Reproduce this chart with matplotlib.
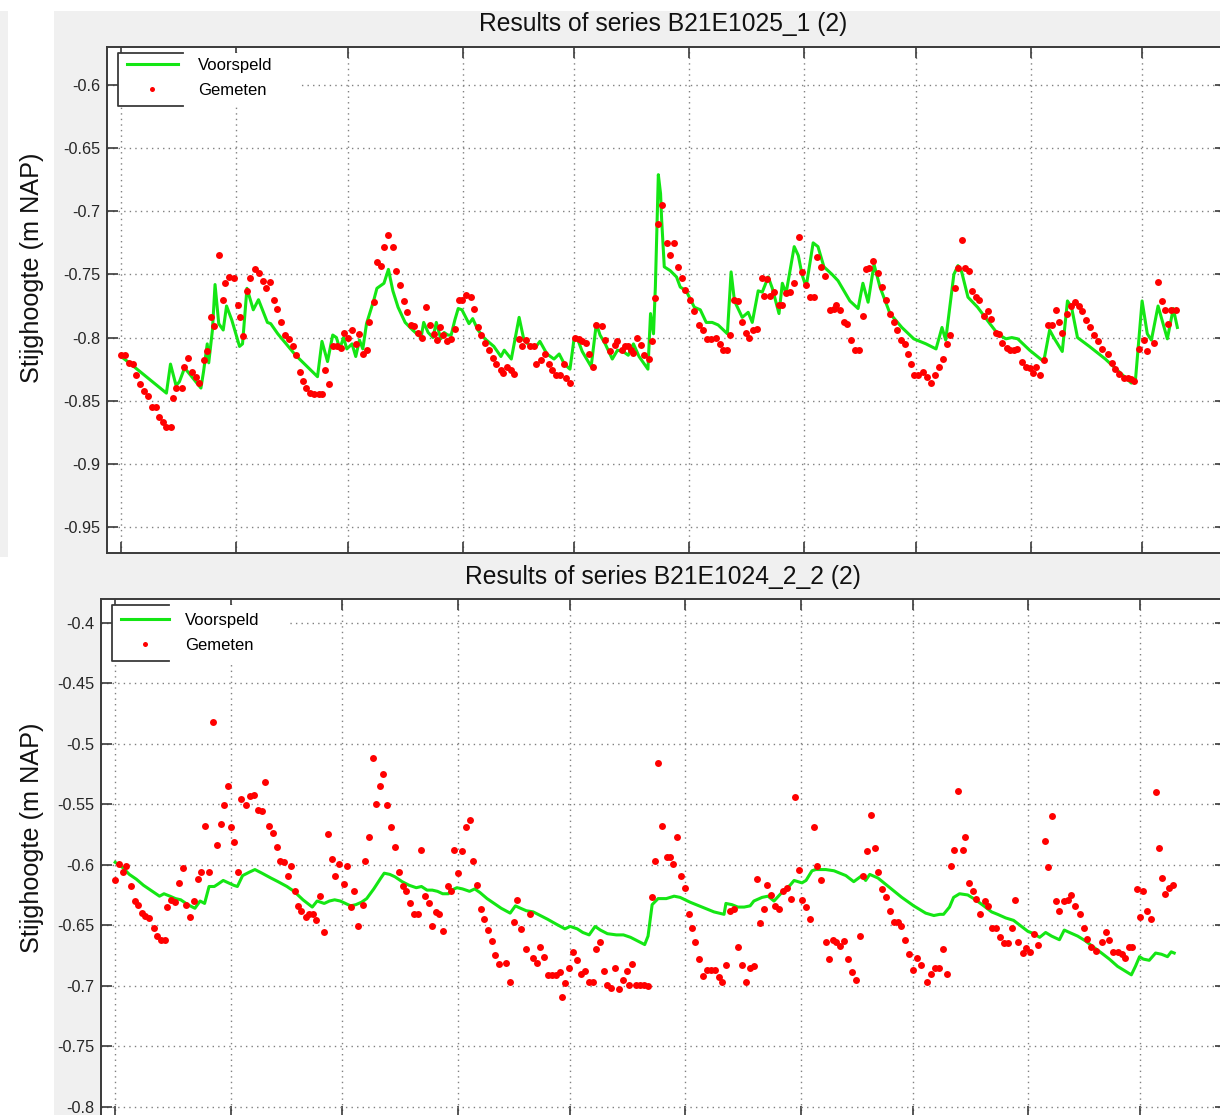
import matplotlib.pyplot as plt
from matplotlib.lines import Line2D
from matplotlib.patches import Rectangle

plt.rcParams['font.family'] = ['Liberation Sans', 'DejaVu Sans']

W, H = 1220, 1115

titles = ['Results of series B21E1025_1 (2)', 'Results of series B21E1024_2_2 (2)']
ylabel = 'Stijghoogte (m NAP)'
legend_labels = ['Voorspeld', 'Gemeten']

# month starts, in days since 1 March (no labels visible in the screenshot)
month_ticks = [0, 31, 61, 92, 122, 153, 184, 214, 245, 275]

top_yticks = [-0.6, -0.65, -0.7, -0.75, -0.8, -0.85, -0.9, -0.95]
top_yticklabels = ['-0.6', '-0.65', '-0.7', '-0.75', '-0.8', '-0.85', '-0.9', '-0.95']
bot_yticks = [-0.4, -0.45, -0.5, -0.55, -0.6, -0.65, -0.7, -0.75, -0.8]
bot_yticklabels = ['-0.4', '-0.45', '-0.5', '-0.55', '-0.6', '-0.65', '-0.7', '-0.75', '-0.8']

# series B21E1025_1 : (day, m NAP)
top_voorspeld = [
    (0, -0.815), (2.2, -0.820), (12.2, -0.844), (13.3, -0.821), (14.8, -0.838), (15.7, -0.835),
    (17.1, -0.824), (21.5, -0.840), (22.2, -0.827), (23.2, -0.805), (23.6, -0.820), (24.6, -0.794),
    (25.3, -0.758), (26.3, -0.789), (27.5, -0.794), (28.4, -0.775), (29.8, -0.786), (31.9, -0.807),
    (32.7, -0.805), (33.9, -0.761), (35.6, -0.778), (37.0, -0.770), (39.4, -0.788), (40.3, -0.789),
    (42.2, -0.797), (47.0, -0.814), (52.9, -0.831), (54.1, -0.803), (55.6, -0.819), (57.0, -0.798),
    (58.0, -0.800), (58.9, -0.809), (59.9, -0.800), (60.8, -0.809), (62.2, -0.805), (63.2, -0.815),
    (64.2, -0.802), (65.1, -0.809), (66.1, -0.789), (68.0, -0.771), (68.9, -0.761), (70.8, -0.757),
    (72.0, -0.746), (73.2, -0.763), (74.6, -0.776), (76.5, -0.788), (78.5, -0.794), (80.8, -0.800),
    (81.5, -0.788), (82.7, -0.796), (84.0, -0.800), (84.9, -0.788), (86.1, -0.801), (87.0, -0.796),
    (88.0, -0.798), (88.9, -0.798), (89.9, -0.786), (90.8, -0.777), (91.8, -0.778), (93.7, -0.789),
    (94.7, -0.785), (96.1, -0.794), (98.0, -0.801), (100.4, -0.807), (102.3, -0.815), (103.2, -0.810),
    (105.1, -0.817), (107.2, -0.784), (108.5, -0.802), (109.9, -0.806), (111.8, -0.807), (112.8, -0.803),
    (114.7, -0.813), (116.6, -0.817), (118.0, -0.813), (119.4, -0.821), (120.9, -0.825), (122.0, -0.801),
    (122.8, -0.800), (124.2, -0.811), (126.6, -0.823), (128.0, -0.789), (129.0, -0.798), (130.4, -0.805),
    (132.3, -0.817), (133.7, -0.810), (135.2, -0.811), (136.6, -0.814), (138.0, -0.805), (139.5, -0.815),
    (141.9, -0.825), (142.6, -0.781), (143.4, -0.797), (143.9, -0.760), (144.7, -0.671), (145.3, -0.686),
    (145.6, -0.707), (146.3, -0.744), (147.9, -0.747), (149.6, -0.752), (150.6, -0.760), (152.2, -0.763),
    (154.4, -0.776), (156.0, -0.778), (157.6, -0.788), (159.2, -0.788), (160.8, -0.790), (163.3, -0.797),
    (164.3, -0.748), (165.2, -0.771), (167.3, -0.784), (168.9, -0.780), (170.0, -0.788), (171.6, -0.763),
    (172.7, -0.764), (174.3, -0.752), (175.4, -0.761), (177.2, -0.781), (178.1, -0.757), (179.1, -0.765),
    (181.3, -0.728), (182.4, -0.735), (183.4, -0.750), (184.5, -0.760), (186.4, -0.725), (187.7, -0.728),
    (189.3, -0.744), (191.5, -0.750), (193.1, -0.755), (196.3, -0.771), (198.5, -0.777), (199.8, -0.757),
    (201.2, -0.772), (202.8, -0.742), (204.4, -0.760), (207.1, -0.781), (210.3, -0.792), (213.5, -0.801),
    (216.8, -0.805), (219.5, -0.809), (221.1, -0.792), (222.1, -0.802), (224.3, -0.750), (225.4, -0.743),
    (226.4, -0.748), (228.1, -0.768), (230.7, -0.776), (234.0, -0.789), (236.1, -0.797), (238.3, -0.801),
    (239.9, -0.800), (241.5, -0.801), (244.7, -0.810), (248.5, -0.819), (250.1, -0.794), (251.2, -0.800),
    (253.5, -0.811), (254.9, -0.771), (256.0, -0.776), (257.6, -0.800), (260.8, -0.807), (265.1, -0.817),
    (268.4, -0.826), (272.1, -0.836), (273.2, -0.834), (275.0, -0.771), (276.4, -0.797), (277.5, -0.802),
    (279.3, -0.775), (281.8, -0.801), (283.4, -0.777), (284.5, -0.792),
]

top_gemeten = [
    (0.0, -0.814), (1.1, -0.814), (2.2, -0.820), (3.2, -0.821), (4.1, -0.830), (5.2, -0.837),
    (6.2, -0.842), (7.3, -0.846), (8.4, -0.855), (9.3, -0.855), (10.3, -0.863), (11.3, -0.867),
    (12.2, -0.871), (13.4, -0.871), (14.1, -0.848), (14.9, -0.840), (16.3, -0.840), (17.0, -0.823),
    (17.9, -0.816), (19.2, -0.827), (20.1, -0.831), (21.1, -0.836), (22.2, -0.818), (23.2, -0.811),
    (24.1, -0.784), (25.1, -0.791), (26.3, -0.735), (27.5, -0.770), (28.1, -0.757), (29.1, -0.752),
    (30.3, -0.753), (31.5, -0.774), (32.0, -0.784), (32.9, -0.799), (33.9, -0.763), (34.8, -0.753),
    (36.0, -0.746), (37.2, -0.749), (38.1, -0.755), (39.1, -0.761), (40.1, -0.756), (41.1, -0.770),
    (42.0, -0.777), (43.2, -0.788), (44.1, -0.798), (45.1, -0.801), (46.2, -0.807), (47.2, -0.814),
    (48.2, -0.827), (48.9, -0.834), (49.9, -0.840), (50.8, -0.844), (52.0, -0.845), (53.2, -0.845),
    (54.1, -0.845), (54.9, -0.826), (56.1, -0.837), (57.0, -0.807), (58.2, -0.807), (59.2, -0.808),
    (60.1, -0.796), (61.0, -0.800), (62.1, -0.794), (63.2, -0.805), (64.2, -0.797), (65.1, -0.813),
    (66.1, -0.810), (66.7, -0.788), (68.0, -0.772), (68.9, -0.740), (69.9, -0.743), (70.8, -0.728),
    (72.0, -0.719), (73.2, -0.728), (74.0, -0.747), (75.1, -0.758), (76.1, -0.771), (77.0, -0.780),
    (78.0, -0.790), (78.9, -0.791), (80.1, -0.796), (81.1, -0.800), (82.1, -0.776), (83.2, -0.790),
    (84.2, -0.797), (85.1, -0.802), (85.9, -0.792), (86.8, -0.798), (87.8, -0.803), (88.9, -0.801),
    (89.9, -0.793), (90.9, -0.770), (91.8, -0.770), (92.9, -0.766), (94.2, -0.768), (95.1, -0.777),
    (96.1, -0.792), (97.0, -0.798), (98.0, -0.804), (99.1, -0.810), (100.2, -0.816), (101.1, -0.821),
    (102.3, -0.826), (102.8, -0.828), (104.0, -0.823), (105.0, -0.826), (105.9, -0.829), (107.1, -0.801),
    (108.0, -0.807), (109.0, -0.802), (110.1, -0.807), (111.1, -0.807), (111.8, -0.821), (113.0, -0.818),
    (114.2, -0.813), (115.2, -0.821), (116.1, -0.826), (117.1, -0.830), (118.2, -0.830), (119.2, -0.821),
    (119.9, -0.832), (120.9, -0.836), (122.3, -0.800), (123.3, -0.801), (124.2, -0.803), (125.2, -0.804),
    (126.1, -0.813), (127.1, -0.823), (128.0, -0.790), (129.4, -0.791), (130.4, -0.802), (131.8, -0.811),
    (133.0, -0.806), (133.7, -0.803), (134.9, -0.810), (135.7, -0.807), (136.6, -0.807), (137.4, -0.810),
    (138.0, -0.812), (139.0, -0.800), (139.9, -0.806), (140.9, -0.814), (142.1, -0.817), (143.0, -0.803),
    (143.8, -0.769), (144.7, -0.710), (145.8, -0.695), (146.9, -0.725), (147.9, -0.735), (149.0, -0.725),
    (149.9, -0.744), (151.0, -0.753), (152.0, -0.762), (153.1, -0.770), (154.2, -0.779), (155.7, -0.790),
    (156.8, -0.794), (157.9, -0.801), (159.0, -0.801), (160.1, -0.800), (161.2, -0.805), (162.2, -0.810),
    (163.2, -0.810), (164.1, -0.798), (165.2, -0.770), (166.2, -0.771), (167.3, -0.788), (168.2, -0.796),
    (169.2, -0.800), (170.3, -0.794), (171.4, -0.793), (172.5, -0.753), (173.2, -0.767), (174.1, -0.754),
    (174.8, -0.767), (175.9, -0.764), (177.2, -0.774), (178.1, -0.774), (179.1, -0.765), (180.2, -0.764),
    (181.3, -0.757), (182.6, -0.720), (183.4, -0.748), (184.5, -0.758), (185.6, -0.768), (186.7, -0.768),
    (187.5, -0.736), (188.6, -0.744), (189.7, -0.751), (191.0, -0.778), (192.0, -0.777), (192.6, -0.774),
    (193.6, -0.778), (194.7, -0.788), (195.6, -0.789), (196.7, -0.802), (197.6, -0.810), (198.7, -0.810),
    (199.8, -0.783), (200.6, -0.746), (201.5, -0.745), (202.6, -0.739), (203.9, -0.749), (204.9, -0.760),
    (206.0, -0.770), (207.1, -0.781), (208.2, -0.788), (208.9, -0.794), (210.1, -0.802), (211.2, -0.805),
    (211.9, -0.813), (212.8, -0.821), (213.5, -0.830), (214.6, -0.830), (216.0, -0.827), (217.1, -0.831),
    (218.2, -0.836), (219.1, -0.830), (220.2, -0.823), (221.3, -0.817), (222.4, -0.805), (223.2, -0.798),
    (224.5, -0.761), (225.4, -0.745), (226.4, -0.723), (227.3, -0.745), (228.4, -0.747), (229.1, -0.763),
    (230.2, -0.768), (231.1, -0.770), (232.4, -0.783), (233.4, -0.779), (234.3, -0.785), (235.6, -0.796),
    (236.4, -0.797), (237.4, -0.804), (238.5, -0.808), (239.3, -0.810), (240.4, -0.810), (241.3, -0.809),
    (242.6, -0.819), (243.6, -0.823), (244.7, -0.824), (245.5, -0.828), (246.3, -0.823), (247.4, -0.830),
    (248.5, -0.818), (249.6, -0.790), (250.6, -0.790), (251.7, -0.778), (252.6, -0.788), (253.5, -0.796),
    (254.7, -0.781), (255.8, -0.775), (256.9, -0.772), (257.9, -0.775), (258.9, -0.779), (260.0, -0.786),
    (261.1, -0.792), (262.1, -0.798), (263.2, -0.803), (264.3, -0.809), (265.7, -0.813), (266.8, -0.820),
    (267.8, -0.825), (268.9, -0.829), (270.0, -0.832), (271.1, -0.832), (272.1, -0.833), (272.9, -0.834),
    (274.3, -0.809), (275.4, -0.802), (276.4, -0.811), (278.1, -0.804), (279.3, -0.756), (280.4, -0.771),
    (281.1, -0.778), (282.0, -0.789), (282.9, -0.778), (284.0, -0.778),
]

# series B21E1024_2_2 : (day, m NAP)
bot_voorspeld = [
    (0, -0.598), (1.9, -0.602), (3.8, -0.608), (5.7, -0.612), (7.6, -0.617), (9.5, -0.621),
    (11.9, -0.626), (13.1, -0.624), (14.7, -0.626), (16.2, -0.628), (17.6, -0.629), (19.5, -0.633),
    (21.4, -0.636), (22.8, -0.630), (24.0, -0.632), (25.2, -0.618), (26.6, -0.618), (27.6, -0.616),
    (29.0, -0.613), (30.4, -0.615), (31.8, -0.617), (32.8, -0.618), (34.2, -0.609), (36.1, -0.606),
    (37.5, -0.604), (39.4, -0.607), (41.8, -0.611), (43.7, -0.614), (46.1, -0.618), (48.0, -0.622),
    (50.4, -0.629), (52.9, -0.635), (54.2, -0.630), (56.1, -0.632), (57.5, -0.630), (58.9, -0.629),
    (60.4, -0.630), (61.8, -0.632), (63.2, -0.634), (64.6, -0.633), (66.1, -0.631), (67.5, -0.628),
    (69.4, -0.620), (71.3, -0.611), (72.2, -0.607), (73.7, -0.608), (75.1, -0.610), (77.0, -0.614),
    (78.9, -0.617), (80.8, -0.619), (82.2, -0.618), (83.7, -0.621), (85.1, -0.621), (86.5, -0.622),
    (87.9, -0.624), (89.4, -0.624), (90.3, -0.621), (91.7, -0.619), (93.2, -0.620), (95.1, -0.622),
    (96.5, -0.620), (97.9, -0.623), (99.8, -0.628), (101.7, -0.632), (103.6, -0.636), (106.0, -0.640),
    (107.4, -0.634), (108.8, -0.636), (110.3, -0.638), (112.2, -0.639), (114.1, -0.642), (116.0, -0.645),
    (118.3, -0.649), (120.7, -0.653), (122.1, -0.651), (124.0, -0.653), (125.5, -0.656), (127.2, -0.658),
    (128.8, -0.651), (130.2, -0.654), (132.1, -0.657), (134.5, -0.658), (136.4, -0.658), (138.3, -0.660),
    (140.2, -0.663), (142.1, -0.666), (143.0, -0.659), (144.1, -0.633), (145.7, -0.628), (147.9, -0.628),
    (150.0, -0.626), (151.6, -0.627), (154.3, -0.631), (157.5, -0.635), (160.7, -0.639), (163.4, -0.641),
    (163.9, -0.632), (165.5, -0.633), (167.1, -0.635), (168.8, -0.635), (170.4, -0.634), (171.4, -0.630),
    (173.6, -0.627), (175.2, -0.626), (176.8, -0.630), (178.9, -0.623), (181.1, -0.617), (182.2, -0.613),
    (184.3, -0.615), (185.4, -0.613), (187.0, -0.605), (188.0, -0.604), (190.7, -0.604), (192.9, -0.605),
    (196.1, -0.609), (198.2, -0.614), (200.4, -0.609), (201.4, -0.613), (202.5, -0.608), (204.7, -0.611),
    (207.9, -0.619), (211.1, -0.627), (214.3, -0.634), (217.5, -0.640), (219.7, -0.642), (221.3, -0.641),
    (222.3, -0.641), (223.9, -0.635), (225.0, -0.627), (226.6, -0.624), (228.8, -0.625), (230.9, -0.629),
    (233.1, -0.634), (235.2, -0.639), (236.8, -0.641), (239.0, -0.644), (241.1, -0.646), (243.2, -0.651),
    (244.9, -0.655), (246.5, -0.657), (248.1, -0.660), (249.7, -0.656), (251.3, -0.659), (253.4, -0.662),
    (254.7, -0.654), (256.1, -0.656), (258.3, -0.659), (260.4, -0.663), (262.5, -0.668), (264.7, -0.673),
    (266.8, -0.678), (269.0, -0.684), (271.1, -0.688), (272.7, -0.691), (273.8, -0.684), (274.9, -0.676),
    (275.9, -0.678), (277.5, -0.679), (279.2, -0.673), (280.8, -0.674), (282.4, -0.676), (283.4, -0.672),
    (284.2, -0.673),
]

bot_gemeten = [
    (0.0, -0.613), (1.0, -0.599), (2.1, -0.606), (3.0, -0.601), (4.3, -0.618), (5.2, -0.630),
    (6.2, -0.633), (7.1, -0.640), (8.1, -0.642), (9.2, -0.644), (10.3, -0.652), (11.2, -0.659),
    (12.4, -0.662), (13.3, -0.662), (14.0, -0.635), (14.9, -0.629), (16.0, -0.631), (17.1, -0.615),
    (18.1, -0.603), (19.0, -0.633), (20.2, -0.643), (21.1, -0.630), (22.2, -0.612), (23.1, -0.606),
    (24.2, -0.568), (25.2, -0.606), (26.3, -0.482), (27.4, -0.584), (28.3, -0.566), (29.3, -0.551),
    (30.2, -0.535), (31.2, -0.569), (31.9, -0.581), (33.0, -0.606), (33.9, -0.546), (35.0, -0.551),
    (36.1, -0.543), (37.3, -0.542), (38.3, -0.555), (39.3, -0.556), (40.1, -0.532), (41.2, -0.568),
    (42.3, -0.574), (43.3, -0.585), (44.2, -0.597), (45.2, -0.598), (46.3, -0.609), (47.2, -0.601),
    (48.2, -0.622), (49.0, -0.634), (49.9, -0.638), (51.1, -0.643), (52.1, -0.641), (53.0, -0.641),
    (54.0, -0.646), (55.1, -0.626), (56.1, -0.656), (57.0, -0.575), (58.2, -0.595), (59.1, -0.609),
    (60.2, -0.599), (61.3, -0.616), (62.3, -0.601), (63.2, -0.635), (64.2, -0.622), (65.3, -0.651),
    (66.4, -0.633), (67.0, -0.597), (68.0, -0.577), (69.1, -0.512), (70.1, -0.550), (71.0, -0.535),
    (72.0, -0.525), (73.0, -0.551), (74.1, -0.569), (75.1, -0.585), (76.1, -0.606), (77.2, -0.618),
    (78.1, -0.622), (79.2, -0.632), (80.3, -0.641), (81.3, -0.641), (82.2, -0.588), (83.2, -0.626),
    (84.3, -0.632), (85.1, -0.651), (86.0, -0.639), (87.0, -0.641), (87.9, -0.655), (89.2, -0.618),
    (90.1, -0.622), (91.0, -0.588), (92.0, -0.607), (93.2, -0.589), (94.1, -0.569), (95.1, -0.563),
    (96.0, -0.597), (97.2, -0.617), (98.2, -0.637), (99.1, -0.645), (100.1, -0.654), (101.2, -0.663),
    (102.0, -0.675), (103.0, -0.682), (105.0, -0.681), (106.0, -0.697), (106.9, -0.647), (107.9, -0.629),
    (109.0, -0.653), (110.3, -0.670), (111.2, -0.641), (112.2, -0.677), (113.1, -0.681), (114.1, -0.668),
    (115.0, -0.676), (116.2, -0.691), (117.1, -0.691), (118.3, -0.691), (119.3, -0.689), (119.8, -0.709),
    (120.7, -0.698), (121.9, -0.685), (122.9, -0.672), (124.0, -0.679), (125.0, -0.690), (126.0, -0.688),
    (127.2, -0.697), (128.1, -0.697), (129.1, -0.670), (130.2, -0.664), (131.2, -0.688), (132.1, -0.699),
    (133.1, -0.702), (134.2, -0.685), (135.3, -0.703), (136.2, -0.695), (137.4, -0.688), (138.0, -0.699),
    (138.8, -0.682), (139.7, -0.699), (140.9, -0.699), (141.9, -0.699), (143.1, -0.700), (144.0, -0.627),
    (145.0, -0.597), (145.7, -0.516), (146.8, -0.568), (148.1, -0.594), (148.9, -0.594), (149.8, -0.599),
    (150.9, -0.577), (151.9, -0.609), (153.0, -0.619), (154.1, -0.641), (154.8, -0.652), (155.7, -0.664),
    (156.8, -0.678), (157.8, -0.692), (158.9, -0.687), (160.0, -0.687), (160.9, -0.687), (162.0, -0.693),
    (162.9, -0.697), (164.0, -0.683), (165.0, -0.638), (166.1, -0.637), (167.1, -0.668), (168.2, -0.683),
    (169.3, -0.697), (170.4, -0.685), (171.4, -0.684), (172.3, -0.612), (173.0, -0.648), (174.1, -0.637),
    (175.0, -0.617), (176.0, -0.625), (177.1, -0.634), (178.1, -0.637), (179.2, -0.622), (180.2, -0.619),
    (181.3, -0.628), (182.4, -0.544), (183.4, -0.604), (184.3, -0.629), (185.4, -0.635), (186.5, -0.645),
    (187.5, -0.569), (188.4, -0.601), (189.4, -0.613), (190.7, -0.664), (191.6, -0.678), (192.7, -0.662),
    (193.4, -0.664), (194.5, -0.667), (195.6, -0.663), (196.6, -0.678), (197.7, -0.689), (198.8, -0.695),
    (199.8, -0.659), (200.6, -0.609), (201.7, -0.589), (202.7, -0.559), (203.8, -0.586), (204.8, -0.606),
    (205.9, -0.620), (206.8, -0.627), (207.8, -0.638), (208.9, -0.647), (210.0, -0.647), (210.9, -0.651),
    (211.9, -0.662), (213.0, -0.674), (214.1, -0.687), (215.2, -0.677), (216.2, -0.683), (217.8, -0.697),
    (218.9, -0.690), (220.0, -0.685), (221.1, -0.685), (222.1, -0.670), (223.2, -0.690), (224.2, -0.601),
    (225.2, -0.588), (226.3, -0.539), (227.4, -0.588), (228.0, -0.577), (229.0, -0.615), (230.1, -0.622),
    (231.1, -0.628), (232.2, -0.641), (233.3, -0.630), (234.3, -0.634), (235.2, -0.652), (236.3, -0.652),
    (237.4, -0.660), (238.4, -0.665), (239.5, -0.665), (240.6, -0.652), (241.6, -0.629), (242.4, -0.664),
    (243.5, -0.673), (244.3, -0.669), (245.4, -0.672), (246.5, -0.657), (247.7, -0.666), (249.5, -0.580),
    (250.4, -0.602), (251.5, -0.560), (252.6, -0.630), (253.4, -0.638), (254.5, -0.630), (255.6, -0.629),
    (256.6, -0.625), (257.7, -0.634), (258.8, -0.641), (259.9, -0.652), (260.9, -0.661), (262.0, -0.668),
    (263.1, -0.671), (264.7, -0.664), (265.8, -0.656), (266.8, -0.662), (267.7, -0.672), (269.0, -0.672),
    (270.1, -0.674), (271.1, -0.677), (272.0, -0.668), (273.0, -0.668), (274.1, -0.620), (275.0, -0.643),
    (275.9, -0.622), (277.0, -0.638), (278.1, -0.645), (279.2, -0.540), (280.2, -0.586), (281.0, -0.611),
    (281.8, -0.624), (282.9, -0.619), (284.0, -0.617),
]


def px_rect(left, top, right, bottom):
    # screen pixels (origin top-left) -> figure fraction [x, y, w, h]
    return [left / W, 1 - bottom / H, (right - left) / W, (bottom - top) / H]


def px_pt(x, y):
    return x / W, 1 - y / H


fig = plt.figure(figsize=(W / 100, H / 100), dpi=100)
fig.patch.set_facecolor('white')

# grey window background and thin strip at the far left
fig.patches.append(Rectangle(px_pt(54, H), (W - 54) / W, (H - 11) / H,
                             transform=fig.transFigure, facecolor='#f0f0f0',
                             edgecolor='none', zorder=-10))
fig.patches.append(Rectangle(px_pt(0, 557), 8 / W, (557 - 11) / H,
                             transform=fig.transFigure, facecolor='#f0f0f0',
                             edgecolor='none', zorder=-10))

panels = [
    dict(box=(107, 47, 1226, 553), xlim=(-3.8, 297.6), ylim=(-0.9706, -0.5699),
         pred=top_voorspeld, meas=top_gemeten, yticks=top_yticks, ylabels=top_yticklabels,
         title=titles[0], title_y=24, ylabel_y=268,
         leg_box=(118, 53, 300, 106), leg_anchor=(127, 58), leg_frame_end=183,
         handlelength=3.05, handletextpad=1.2),
    dict(box=(101, 599, 1226, 1117), xlim=(-3.8, 298.1), ylim=(-0.8085, -0.3804),
         pred=bot_voorspeld, meas=bot_gemeten, yticks=bot_yticks, ylabels=bot_yticklabels,
         title=titles[1], title_y=577, ylabel_y=838,
         leg_box=(112, 605, 287, 661), leg_anchor=(121, 613), leg_frame_end=169,
         handlelength=2.87, handletextpad=0.96),
]

spine_col = '#3a3a3a'
green = '#14e614'
red = '#ff0000'

for p in panels:
    ax = fig.add_axes(px_rect(*p['box']))
    ax.set_facecolor('white')

    days = [d for d, v in p['pred']]
    vals = [v for d, v in p['pred']]
    ax.plot(days, vals, color=green, lw=2.2, zorder=2)
    mdays = [d for d, v in p['meas']]
    mvals = [v for d, v in p['meas']]
    ax.plot(mdays, mvals, linestyle='none', marker='o', ms=5.0, mew=0,
            color=red, zorder=2.5)

    ax.set_xlim(*p['xlim'])
    ax.set_ylim(*p['ylim'])
    ax.set_xticks(month_ticks)
    ax.set_xticklabels([])
    ax.set_yticks(p['yticks'])
    ax.set_yticklabels(p['ylabels'])
    ax.tick_params(direction='in', length=8, width=1.2, color=spine_col,
                   top=True, right=True, labelsize=11.7, labelcolor='#262626', pad=5)
    ax.grid(True, linestyle=(0, (1, 3)), color='#808080', linewidth=1.0, zorder=1)
    for s in ax.spines.values():
        s.set_color(spine_col)
        s.set_linewidth(1.4)

    # legend: white block, partial frame, entries
    lx0, ly0, lx1, ly1 = p['leg_box']
    ax.add_patch(Rectangle(px_pt(lx0, ly1), (lx1 - lx0) / W, (ly1 - ly0) / H,
                           transform=fig.transFigure, facecolor='white',
                           edgecolor='none', zorder=3, clip_on=False))
    fe = p['leg_frame_end']
    fx = [fe / W, lx0 / W, lx0 / W, fe / W]
    fy = [1 - ly0 / H, 1 - ly0 / H, 1 - ly1 / H, 1 - ly1 / H]
    fig.add_artist(Line2D(fx, fy, transform=fig.transFigure, color=spine_col,
                          lw=1.3, zorder=6))
    handles = [Line2D([], [], color=green, lw=2.2),
               Line2D([], [], linestyle='none', marker='o', ms=3.6, mew=0, color=red)]
    ax.legend(handles, legend_labels, loc='upper left',
              bbox_to_anchor=px_pt(*p['leg_anchor']), bbox_transform=fig.transFigure,
              frameon=False, borderpad=0, borderaxespad=0,
              handlelength=p['handlelength'], handletextpad=p['handletextpad'],
              labelspacing=0.6, fontsize=12).set_zorder(5)

    fig.text(*px_pt(663, p['title_y']), p['title'], ha='center', va='center',
             fontsize=17.7, color='#111111')
    fig.text(*px_pt(32, p['ylabel_y']), ylabel, rotation=90, ha='center',
             va='center', fontsize=18.2, color='#111111')

fig.savefig('out.png', dpi=100)
